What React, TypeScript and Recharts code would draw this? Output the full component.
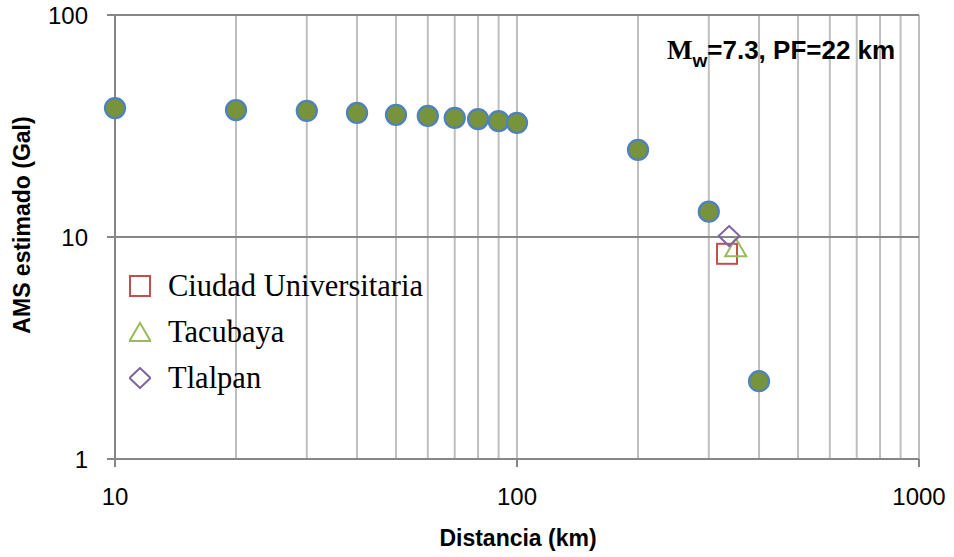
import { ScatterChart, Scatter, XAxis, YAxis, CartesianGrid, Legend } from 'recharts'

// estimated AMS vs distance, Mw 7.3, focal depth 22 km
const distances = [10, 20, 30, 40, 50, 60, 70, 80, 90, 100, 200, 300, 400]
const amsValues = [38.1, 37.3, 37.0, 36.2, 35.5, 35.1, 34.4, 34.0, 33.3, 32.7, 24.7, 13.0, 2.24]

// recorded stations
const stationNames = ['Ciudad Universitaria', 'Tacubaya', 'Tlalpan']
const stationDist = [333, 350, 337]
const stationAms = [8.4, 9.0, 10.1]
const stationColors = ['#C0504D', '#9BBB59', '#8064A2']

const xTicks = [10, 100, 1000]
const yTicks = [1, 10, 100]
const gridX = [20, 30, 40, 50, 60, 70, 80, 90, 100, 200, 300, 400, 500, 600, 700, 800, 900, 1000]

const curve = distances.map((d, i) => ({ x: d, y: amsValues[i] }))
const stations = stationNames.map((n, i) => ({ name: n, data: [{ x: stationDist[i], y: stationAms[i] }] }))

const axisGray = '#868686'
const sans = 'Liberation Sans, Arial, sans-serif'
const serif = 'Liberation Serif, Times New Roman, serif'

const Dot = (p: any) => (
    <circle cx={p.cx} cy={p.cy} r={10} fill="#77933C" stroke="#4F81BD" strokeWidth={2.25} />
)

function marker(kind: number, cx: number, cy: number, color: string) {
    if (kind === 0) {
        return <rect x={cx - 10} y={cy - 10} width={20} height={20} fill="none" stroke={color} strokeWidth={2} />
    }
    if (kind === 1) {
        return <polygon points={`${cx},${cy - 9} ${cx + 10.5},${cy + 9} ${cx - 10.5},${cy + 9}`} fill="none" stroke={color} strokeWidth={2} />
    }
    return <polygon points={`${cx},${cy - 10} ${cx + 10.5},${cy} ${cx},${cy + 10} ${cx - 10.5},${cy}`} fill="none" stroke={color} strokeWidth={2} />
}

const YTitle = () => (
    <text x={30} y={225} transform="rotate(-90 30 225)" textAnchor="middle"
        style={{ fontFamily: sans, fontSize: 23, fontWeight: 700, fill: '#000' }}>
        AMS estimado (Gal)
    </text>
)

const XTitle = () => (
    <text x={518} y={546} textAnchor="middle"
        style={{ fontFamily: sans, fontSize: 23, fontWeight: 700, fill: '#000' }}>
        Distancia (km)
    </text>
)

const renderLegend = () => (
    <div>
        {stationNames.map((n, i) => (
            <div key={n} style={{ display: 'flex', alignItems: 'center', height: 46 }}>
                <svg width={22} height={22} style={{ marginRight: 17 }}>
                    {marker(i, 11, 11, stationColors[i])}
                </svg>
                <span style={{ fontFamily: serif, fontSize: 30.5, lineHeight: '46px', color: '#000', whiteSpace: 'nowrap' }}>{n}</span>
            </div>
        ))}
    </div>
)

export default function App() {
    return (
        <div style={{ position: 'absolute', left: 0, top: 0, width: 954, height: 557, background: '#fff' }}>
            <ScatterChart width={954} height={557} margin={{ top: 15, right: 35, bottom: 0, left: 0 }}>
                <CartesianGrid xAxisId="grid" horizontal={false} stroke="#BFBFBF" strokeWidth={2} />
                <CartesianGrid vertical={false} stroke={axisGray} strokeWidth={2} />
                <XAxis xAxisId="grid" dataKey="x" type="number" scale="log" domain={[10, 1000]} ticks={gridX} interval={0} hide allowDataOverflow />
                <XAxis
                    dataKey="x"
                    type="number"
                    scale="log"
                    domain={[10, 1000]}
                    ticks={xTicks}
                    interval={0}
                    height={98}
                    tickSize={8}
                    tickMargin={21}
                    tick={{ fill: '#000', fontSize: 24, fontFamily: sans }}
                    axisLine={{ stroke: axisGray, strokeWidth: 2 }}
                    tickLine={{ stroke: axisGray, strokeWidth: 2 }}
                    label={<XTitle />}
                />
                <YAxis
                    dataKey="y"
                    type="number"
                    scale="log"
                    domain={[1, 100]}
                    ticks={yTicks}
                    interval={0}
                    width={115}
                    tickSize={8}
                    tickMargin={19}
                    tick={{ fill: '#000', fontSize: 24, fontFamily: sans }}
                    axisLine={{ stroke: axisGray, strokeWidth: 2 }}
                    tickLine={{ stroke: axisGray, strokeWidth: 2 }}
                    label={<YTitle />}
                />
                <Scatter name="AMS" data={curve} shape={Dot} isAnimationActive={false} legendType="none" />
                {stations.map((s, i) => (
                    <Scatter
                        key={s.name}
                        name={s.name}
                        data={s.data}
                        isAnimationActive={false}
                        shape={(p: any) => marker(i, p.cx, p.cy, stationColors[i])}
                    />
                ))}
                <Legend
                    layout="vertical"
                    align="center"
                    verticalAlign="middle"
                    wrapperStyle={{ left: 129, top: 263, width: 330 }}
                    content={renderLegend}
                />
            </ScatterChart>
            <svg width={954} height={557} style={{ position: 'absolute', left: 0, top: 0, pointerEvents: 'none' }}>
                <text x={667} y={59} style={{ fontWeight: 700, fill: '#000' }}>
                    <tspan style={{ fontFamily: serif, fontSize: 27 }}>M</tspan>
                    <tspan dy={8} style={{ fontFamily: sans, fontSize: 19 }}>w</tspan>
                    <tspan dy={-8} style={{ fontFamily: sans, fontSize: 26 }}>=7.3, PF=22 km</tspan>
                </text>
            </svg>
        </div>
    )
}
